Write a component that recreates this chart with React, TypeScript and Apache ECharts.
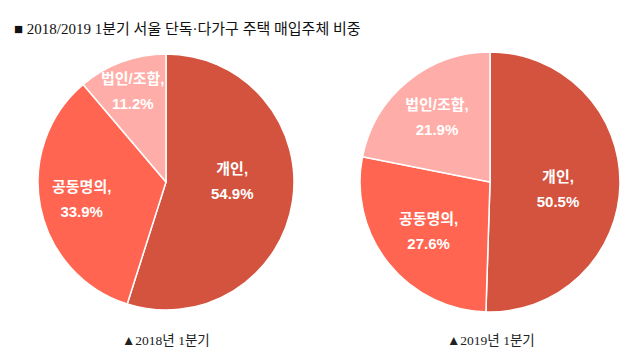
import React, { useEffect, useRef } from "react";
import * as echarts from "echarts";

const categories = ["개인", "공동명의", "법인/조합"];
const values2018 = [54.9, 33.9, 11.2];
const values2019 = [50.5, 27.6, 21.9];
const colors = ["#D4533F", "#FF6551", "#FFADA8"];
const titleText = "■ 2018/2019 1분기 서울 단독·다가구 주택 매입주체 비중";
const caption2018 = "▲2018년 1분기";
const caption2019 = "▲2019년 1분기";

const labelStyle = {
  color: "#ffffff",
  fontWeight: "bold" as const,
  fontSize: 15,
  lineHeight: 25,
  fontFamily: "Liberation Sans, Noto Sans CJK KR, sans-serif",
  formatter: (p: any) => `${p.name},\n${p.value.toFixed(1)}%`,
};

function mainPie(vals: number[], center: [number, number], r: number, dy: number) {
  return {
    type: "pie",
    center,
    radius: [0, r],
    startAngle: 90,
    clockwise: true,
    silent: true,
    label: { ...labelStyle, position: "inside" },
    labelLine: { show: false },
    labelLayout: { dy },
    itemStyle: { borderColor: "#ffffff", borderWidth: 1.5 },
    data: categories.map((name, i) => ({
      name,
      value: vals[i],
      itemStyle: { color: colors[i] },
      label: { show: i === 0 },
    })),
  };
}

function labelPie(vals: number[], center: [number, number], r0: number, r: number, idx: number) {
  return {
    type: "pie",
    center,
    radius: [r0, r],
    startAngle: 90,
    clockwise: true,
    silent: true,
    z: 5,
    label: { ...labelStyle, position: "inside" },
    labelLine: { show: false },
    itemStyle: { color: "transparent", borderWidth: 0 },
    data: categories.map((name, i) => ({
      name,
      value: vals[i],
      label: { show: i === idx },
    })),
  };
}

export default function App() {
  const ref = useRef<HTMLDivElement>(null);
  useEffect(() => {
    if (!ref.current) return;
    const chart = echarts.init(ref.current, undefined, { renderer: "svg" });
    const c1: [number, number] = [166, 182];
    const c2: [number, number] = [490, 182];
    const r1 = 128;
    const r2 = 130;
    const serif = "Liberation Serif, Noto Sans CJK KR, serif";
    chart.setOption({
      animation: false,
      backgroundColor: "#ffffff",
      title: [
        {
          text: titleText,
          left: 9,
          top: 16,
          textStyle: { fontSize: 15, fontWeight: "normal", color: "#111111", fontFamily: serif },
        },
        {
          text: caption2018,
          left: 117,
          top: 329,
          textStyle: { fontSize: 13.5, fontWeight: "normal", color: "#222222", fontFamily: serif },
        },
        {
          text: caption2019,
          left: 442,
          top: 329,
          textStyle: { fontSize: 13.5, fontWeight: "normal", color: "#222222", fontFamily: serif },
        },
      ],
      series: [
        mainPie(values2018, c1, r1, -11),
        labelPie(values2018, c1, 38, r1, 1),
        labelPie(values2018, c1, 59, r1, 2),
        mainPie(values2019, c2, r2, 6),
        labelPie(values2019, c2, 21, r2, 1),
        labelPie(values2019, c2, 31, r2, 2),
      ],
    });
    return () => chart.dispose();
  }, []);
  return (
    <div
      ref={ref}
      style={{ position: "fixed", left: 0, top: 0, width: 640, height: 361 }}
    />
  );
}
